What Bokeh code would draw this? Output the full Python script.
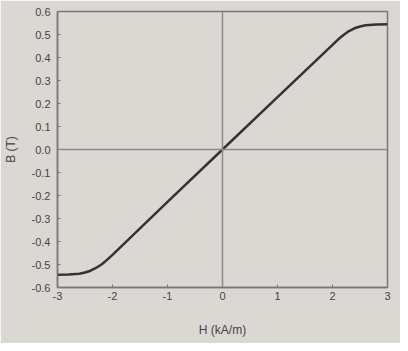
from bokeh.plotting import figure
from bokeh.models import Span, FixedTicker
from bokeh.embed import file_html
from bokeh.resources import INLINE

# Data
H = [-3.0, -2.8, -2.6, -2.5, -2.4, -2.3, -2.2, -2.1, -2.0, -1.0, 0.0,
     1.0, 2.0, 2.1, 2.2, 2.3, 2.4, 2.5, 2.6, 2.8, 3.0]
B = [-0.545, -0.544, -0.540, -0.535, -0.527, -0.515, -0.500, -0.480, -0.458, -0.228, 0.0,
     0.228, 0.455, 0.478, 0.498, 0.515, 0.527, 0.535, 0.540, 0.544, 0.545]
x_ticks = [-3, -2, -1, 0, 1, 2, 3]
y_ticks = [-0.6, -0.5, -0.4, -0.3, -0.2, -0.1, 0.0, 0.1, 0.2, 0.3, 0.4, 0.5, 0.6]

bg = "#dbd8d4"
p = figure(width=400, height=343, output_backend="svg", toolbar_location=None,
           x_range=(-3, 3), y_range=(-0.6, 0.6),
           min_border_left=57, min_border_right=13, min_border_top=11, min_border_bottom=56,
           background_fill_color=bg, border_fill_color=bg)

p.grid.visible = False
p.outline_line_color = "#777777"
p.outline_line_width = 1.5

p.add_layout(Span(location=0, dimension="width", line_color="#8a8a8a", line_width=1.5))
p.add_layout(Span(location=0, dimension="height", line_color="#8a8a8a", line_width=1.5))

p.line(H, B, line_color="#333333", line_width=2.5)

for ax in (p.xaxis[0], p.yaxis[0]):
    ax.axis_line_color = "#777777"
    ax.axis_line_width = 1.5
    ax.major_tick_in = 3
    ax.major_tick_out = 0
    ax.minor_tick_in = 0
    ax.minor_tick_out = 0
    ax.major_tick_line_color = "#777777"
    ax.major_label_text_font = "Liberation Sans"
    ax.major_label_text_font_size = "11px"
    ax.major_label_text_color = "#444444"
    ax.axis_label_text_font = "Liberation Sans"
    ax.axis_label_text_font_size = "12px"
    ax.axis_label_text_font_style = "normal"
    ax.axis_label_text_color = "#444444"

p.xaxis.ticker = FixedTicker(ticks=x_ticks)
p.yaxis.ticker = FixedTicker(ticks=y_ticks)
p.xaxis.major_label_overrides = {t: str(t) for t in x_ticks}
p.yaxis.major_label_overrides = {t: f"{t:.1f}" for t in y_ticks}
p.xaxis.axis_label = "H (kA/m)"
p.yaxis.axis_label = "B (T)"
p.xaxis.major_label_standoff = 4
p.yaxis.major_label_standoff = 7
p.xaxis.axis_label_standoff = 20
p.yaxis.axis_label_standoff = 11

open("out.html", "w").write(file_html(p, INLINE))
